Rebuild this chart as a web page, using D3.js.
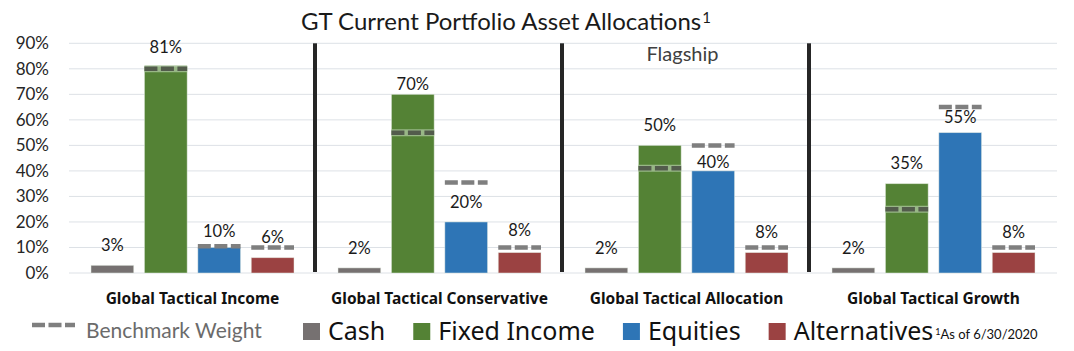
<!DOCTYPE html>
<html>
<head>
<meta charset="utf-8">
<script src="https://cdn.jsdelivr.net/npm/d3@7"></script>
<style>
    body { margin: 0; background: #fff; }
    text { font-family: Lato, "Open Sans", sans-serif; }
    .grid line { stroke: #dde1e6; stroke-width: 1; }
    .y-axis text { font-size: 17px; fill: #262626; }
    .bar-label { font-size: 16.5px; fill: #1a1a1a; text-anchor: middle; }
    .group-label { font-family: "Noto Sans", sans-serif; font-size: 15.5px; font-weight: bold; fill: #111; text-anchor: middle; }
    .chart-title { font-size: 24px; fill: #1a1a1a; text-anchor: middle; }
    .legend-text { font-family: "Noto Sans", sans-serif; font-size: 25px; fill: #111; }
</style>
</head>
<body>
<div id="chart-area"></div>
<script>

// Data
let groups = ["Global Tactical Income", "Global Tactical Conservative", "Global Tactical Allocation", "Global Tactical Growth"];
let seriesNames = ["Cash", "Fixed Income", "Equities", "Alternatives"];

let cash = [3, 2, 2, 2];
let fixedIncome = [81, 70, 50, 35];
let equities = [10, 20, 40, 55];
let alternatives = [6, 8, 8, 8];

// benchmark weights (no benchmark shown for cash)
let benchCash = [null, null, null, null];
let benchFixedIncome = [80, 55, 41, 25];
let benchEquities = [10.5, 35.5, 50, 65];
let benchAlternatives = [10, 10, 10, 10];

let yTicks = [0, 10, 20, 30, 40, 50, 60, 70, 80, 90];

let colors = {"Cash": "#767171", "Fixed Income": "#548235", "Equities": "#2e75b6", "Alternatives": "#9b4242"};

// label distance above bar top (a few are moved so they don't sit on a benchmark dash)
let labelOffset = {"0|Equities": 16, "0|Fixed Income": 19, "1|Fixed Income": 10, "1|Alternatives": 22,
    "2|Equities": 9, "3|Equities": 15};


class GroupedBarChart {

    constructor(parentElement) {
        this.parentElement = parentElement;
        this.initVis();
    }

    initVis() {
        let vis = this;

        vis.margin = {top: 43.3, right: 17, bottom: 78, left: 69};
        vis.width = 1074 - vis.margin.left - vis.margin.right;
        vis.height = 351 - vis.margin.top - vis.margin.bottom;

        vis.root = d3.select("#" + vis.parentElement).append("svg")
            .attr("width", 1074)
            .attr("height", 351);

        vis.svg = vis.root.append("g")
            .attr("transform", "translate(" + vis.margin.left + "," + vis.margin.top + ")");

        // Scales
        vis.x0 = d3.scaleBand()
            .domain(groups)
            .range([0, vis.width])
            .padding(0);

        vis.x1 = d3.scaleBand()
            .domain(seriesNames)
            .range([22, vis.x0.bandwidth() - 22])
            .paddingInner(0.2);

        vis.y = d3.scaleLinear()
            .domain([0, 90])
            .range([vis.height, 0]);

        vis.wrangleData();
    }

    wrangleData() {
        let vis = this;

        let values = [cash, fixedIncome, equities, alternatives];
        let benches = [benchCash, benchFixedIncome, benchEquities, benchAlternatives];

        vis.displayData = [];
        groups.forEach(function (g, gi) {
            seriesNames.forEach(function (s, si) {
                vis.displayData.push({
                    group: g, gi: gi, series: s,
                    value: values[si][gi],
                    bench: benches[si][gi]
                });
            });
        });

        vis.updateVis();
    }

    updateVis() {
        let vis = this;

        // Gridlines
        vis.svg.append("g")
            .attr("class", "grid")
            .selectAll("line")
            .data(yTicks)
            .enter().append("line")
            .attr("x1", 0)
            .attr("x2", vis.width)
            .attr("y1", d => vis.y(d))
            .attr("y2", d => vis.y(d));

        // Y axis
        let yAxis = d3.axisLeft(vis.y)
            .tickValues(yTicks)
            .tickSize(0)
            .tickPadding(20)
            .tickFormat(d => d + "%");

        vis.svg.append("g")
            .attr("class", "y-axis")
            .call(yAxis)
            .call(g => g.select(".domain").remove())
            .selectAll("text")
            .attr("font-family", null)
            .attr("font-size", null);

        // Group dividers
        vis.svg.selectAll(".divider")
            .data(groups.slice(1))
            .enter().append("line")
            .attr("class", "divider")
            .attr("x1", d => vis.x0(d) - 1)
            .attr("x2", d => vis.x0(d) - 1)
            .attr("y1", vis.y(90))
            .attr("y2", vis.y(0) - 1)
            .attr("stroke", "#262626")
            .attr("stroke-width", 4);

        // Bars
        vis.svg.selectAll(".bar")
            .data(vis.displayData)
            .enter().append("rect")
            .attr("class", "bar")
            .attr("x", d => vis.x0(d.group) + vis.x1(d.series))
            .attr("y", d => vis.y(d.value))
            .attr("width", vis.x1.bandwidth())
            .attr("height", d => vis.y(0) - vis.y(d.value))
            .attr("fill", d => colors[d.series])
            .attr("stroke", "#e8efe4")
            .attr("stroke-opacity", 0.6)
            .attr("stroke-width", 0.8);

        // Benchmark dashes
        let benchData = vis.displayData.filter(d => d.bench !== null);

        // light halo for dashes that sit inside a bar
        vis.svg.selectAll(".bench-halo")
            .data(benchData.filter(d => d.bench < d.value))
            .enter().append("line")
            .attr("class", "bench-halo")
            .attr("x1", d => vis.x0(d.group) + vis.x1(d.series))
            .attr("x2", d => vis.x0(d.group) + vis.x1(d.series) + vis.x1.bandwidth())
            .attr("y1", d => vis.y(d.bench))
            .attr("y2", d => vis.y(d.bench))
            .attr("stroke", "#a9c49b")
            .attr("stroke-opacity", 0.8)
            .attr("stroke-width", 7);

        vis.svg.selectAll(".bench")
            .data(benchData)
            .enter().append("line")
            .attr("class", "bench")
            .attr("x1", d => vis.x0(d.group) + vis.x1(d.series))
            .attr("x2", d => vis.x0(d.group) + vis.x1(d.series) + vis.x1.bandwidth())
            .attr("y1", d => vis.y(d.bench))
            .attr("y2", d => vis.y(d.bench))
            .attr("stroke", d => d.bench < d.value ? "#535c4c" : "#7f7f7f")
            .attr("stroke-width", 4.5)
            .attr("stroke-dasharray", "13,3.5");

        // Value labels
        vis.svg.selectAll(".bar-label")
            .data(vis.displayData)
            .enter().append("text")
            .attr("class", "bar-label")
            .attr("x", d => vis.x0(d.group) + vis.x1(d.series) + vis.x1.bandwidth() / 2)
            .attr("y", function (d) {
                let off = labelOffset[d.gi + "|" + d.series];
                return vis.y(d.value) - (off === undefined ? 20 : off);
            })
            .attr("dy", ".35em")
            .text(d => d.value + "%");

        // Group labels
        vis.svg.selectAll(".group-label")
            .data(groups)
            .enter().append("text")
            .attr("class", "group-label")
            .attr("x", d => vis.x0(d) + vis.x0.bandwidth() / 2)
            .attr("y", vis.height + 31)
            .text(d => d);

        // Flagship tag over the allocation fund
        vis.svg.append("text")
            .attr("x", vis.x0(groups[2]) + vis.x0.bandwidth() / 2 - 4)
            .attr("y", vis.y(90) + 18)
            .attr("text-anchor", "middle")
            .attr("font-size", "20px")
            .attr("fill", "#404040")
            .text("Flagship");

        // Title
        let title = vis.root.append("text")
            .attr("class", "chart-title")
            .attr("x", 506)
            .attr("y", 30)
            .text("GT Current Portfolio Asset Allocations");
        title.append("tspan")
            .attr("font-size", "15px")
            .attr("dx", 1)
            .attr("dy", -7)
            .text("1");

        vis.drawLegend();
    }

    drawLegend() {
        let vis = this;
        let ly = 331;

        let legend = vis.root.append("g").attr("class", "legend");

        legend.append("line")
            .attr("x1", 32).attr("x2", 75)
            .attr("y1", ly - 6).attr("y2", ly - 6)
            .attr("stroke", "#7f7f7f")
            .attr("stroke-width", 4.5)
            .attr("stroke-dasharray", "13,3.5");

        legend.append("text")
            .attr("x", 86)
            .attr("y", ly + 7)
            .attr("font-size", "21px")
            .attr("fill", "#6b6b6b")
            .text("Benchmark Weight");

        let xPos = 303;
        seriesNames.forEach(function (s) {
            legend.append("rect")
                .attr("x", xPos).attr("y", ly - 8)
                .attr("width", 17).attr("height", 17)
                .attr("fill", colors[s]);

            let t = legend.append("text")
                .attr("class", "legend-text")
                .attr("x", xPos + 25)
                .attr("y", ly + 9)
                .text(s);

            xPos = xPos + 25 + t.node().getComputedTextLength() + 2;
            if (s !== "Alternatives") xPos += 26;
        });

        let note = legend.append("text")
            .attr("x", xPos)
            .attr("y", ly + 8)
            .attr("font-family", "'Noto Sans', sans-serif")
            .attr("font-size", "13px")
            .attr("fill", "#111");
        note.append("tspan")
            .attr("font-size", "9px")
            .attr("dy", -4)
            .text("1");
        note.append("tspan")
            .attr("dy", 4)
            .text("As of 6/30/2020");
    }
}

let chart = new GroupedBarChart("chart-area");

</script>
</body>
</html>
